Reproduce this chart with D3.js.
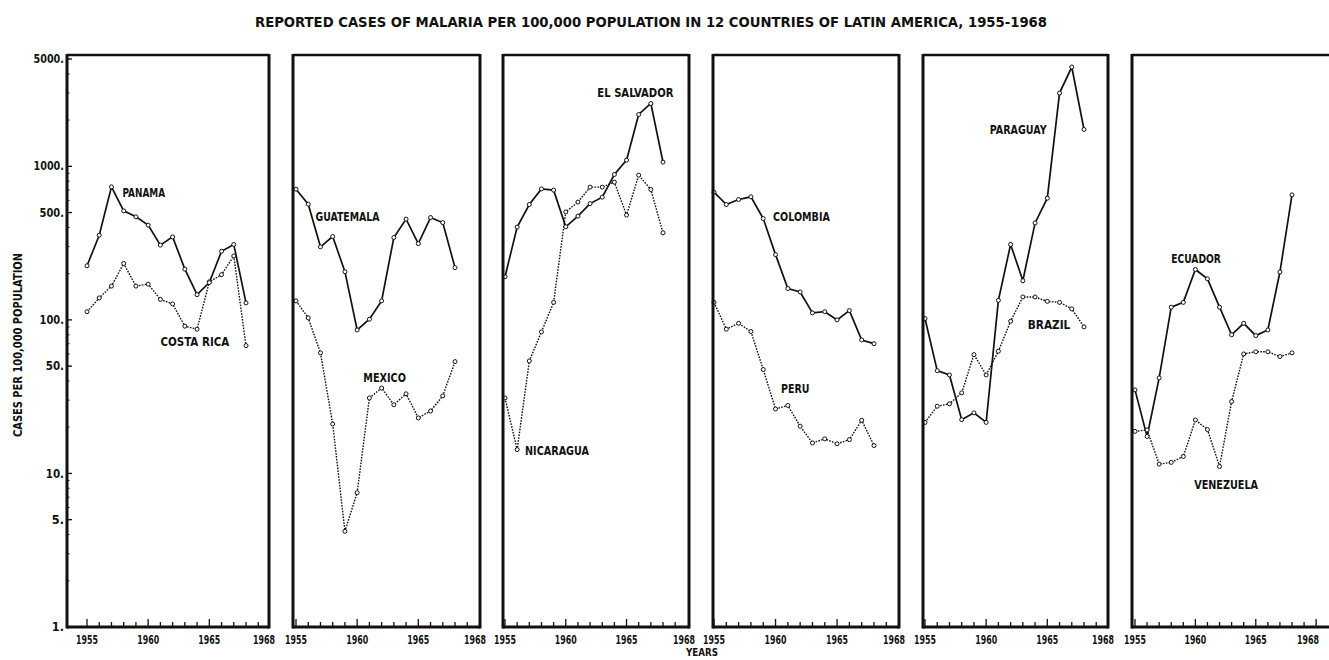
<!DOCTYPE html>
<html>
<head>
<meta charset="utf-8">
<script src="https://cdn.jsdelivr.net/npm/d3@7/dist/d3.min.js"></script>
<style>
  body { margin: 0; background: #fff; }
  svg text {
    font-family: "Liberation Sans Narrow", "DejaVu Sans Condensed", "Roboto", sans-serif;
    font-weight: bold;
    fill: #111;
  }
</style>
</head>
<body>
<svg id="chart" width="1329" height="660"></svg>
<script>
// ---- data: reported malaria cases per 100,000 population ----
const years = [1955, 1956, 1957, 1958, 1959, 1960, 1961, 1962, 1963, 1964, 1965, 1966, 1967, 1968];

const panama     = [225, 356, 735, 513, 469, 414, 307, 347, 214, 146, 175, 280, 310, 129];
const costaRica  = [113, 139, 166, 233, 166, 171, 136, 127, 91, 87, 177, 197, 261, 68];
const guatemala  = [710, 567, 299, 349, 206, 86, 101, 133, 344, 453, 314, 464, 430, 219];
const mexico     = [133, 103, 61, 21, 4.2, 7.5, 31, 36, 28, 33, 23, 25.5, 32, 53.5];
const elSalvador = [191, 402, 564, 713, 700, 404, 474, 572, 630, 885, 1097, 2176, 2566, 1065];
const nicaragua  = [31, 14.3, 54, 83.5, 130, 505, 585, 732, 732, 789, 481, 876, 706, 369];
const colombia   = [679, 564, 608, 633, 457, 266, 160, 152, 111, 113, 100, 115, 74, 70];
const peru       = [130, 87, 95, 84, 47.5, 26.3, 27.7, 20.3, 15.8, 16.8, 15.6, 16.6, 22.2, 15.2];
const paraguay   = [102, 46.7, 43.8, 22.4, 24.8, 21.5, 134, 310, 180, 428, 620, 3000, 4430, 1738];
const brazil     = [21.5, 27.4, 28.4, 33.5, 59.4, 43.8, 62.5, 98, 141, 141, 132, 130, 118, 90];
const ecuador    = [35, 17.4, 41.9, 121, 130, 213, 185, 121, 80, 95, 79, 86, 205, 652];
const venezuela  = [18.8, 19.2, 11.5, 11.8, 12.9, 22.3, 19.3, 11.1, 29.4, 60, 62, 62, 57.7, 61];

const yTickValues = [1, 5, 10, 50, 100, 500, 1000, 5000];
const yTickLabels = ["1.", "5.", "10.", "50.", "100.", "500.", "1000.", "5000."];
const xTickLabels = ["1955", "1960", "1965", "1968"];

const titleText = "REPORTED CASES OF MALARIA PER 100,000 POPULATION IN 12 COUNTRIES OF LATIN AMERICA, 1955-1968";
const yTitle = "CASES PER 100,000 POPULATION";
const xTitle = "YEARS";

// each panel pairs a solid series with a dotted one; name labels sit at (year, value)
const panels = [
  { solid: { name: "PANAMA", values: panama, at: [1957.9, 680] },
    dotted: { name: "COSTA RICA", values: costaRica, at: [1961.0, 72] } },
  { solid: { name: "GUATEMALA", values: guatemala, at: [1956.6, 476] },
    dotted: { name: "MEXICO", values: mexico, at: [1960.5, 42] } },
  { solid: { name: "EL SALVADOR", values: elSalvador, at: [1962.6, 3050] },
    dotted: { name: "NICARAGUA", values: nicaragua, at: [1956.65, 14.2] } },
  { solid: { name: "COLOMBIA", values: colombia, at: [1959.8, 476] },
    dotted: { name: "PERU", values: peru, at: [1960.45, 36] } },
  { solid: { name: "PARAGUAY", values: paraguay, at: [1960.3, 1730] },
    dotted: { name: "BRAZIL", values: brazil, at: [1963.4, 94] } },
  { solid: { name: "ECUADOR", values: ecuador, at: [1958.0, 253] },
    dotted: { name: "VENEZUELA", values: venezuela, at: [1959.9, 8.5] } }
];

// ---- layout ----
const W = 1329;
const svg = d3.select("#chart");
const frameTop = 55, frameBottom = 627;
const y = d3.scaleLog().domain([1, 5000]).range([frameBottom, 59]);

// panel frames: left/right border and the pixel span of 1955..1968
const frames = [
  { left: 67,   right: 269,  x0: 87,   x1: 246 },
  { left: 293,  right: 480,  x0: 296,  x1: 455 },
  { left: 503,  right: 689,  x0: 505,  x1: 663 },
  { left: 713,  right: 899,  x0: 714,  x1: 874 },
  { left: 923,  right: 1108, x0: 925,  x1: 1084 },
  { left: 1132, right: 1336, x0: 1135, x1: 1292 }
];

// title
svg.append("text")
  .attr("x", 651).attr("y", 27)
  .attr("text-anchor", "middle")
  .attr("font-size", 13.5)
  .attr("textLength", 792).attr("lengthAdjust", "spacingAndGlyphs")
  .text(titleText);

// y-axis title
svg.append("text")
  .attr("transform", "translate(22,345) rotate(-90)")
  .attr("text-anchor", "middle")
  .attr("font-size", 12)
  .attr("textLength", 184).attr("lengthAdjust", "spacingAndGlyphs")
  .text(yTitle);

// x-axis title along the bottom edge
svg.append("text")
  .attr("x", 702).attr("y", 656)
  .attr("text-anchor", "middle")
  .attr("font-size", 10.5)
  .attr("textLength", 32).attr("lengthAdjust", "spacingAndGlyphs")
  .text(xTitle);

const lineGen = (x) => d3.line().x((d, i) => x(years[i])).y(d => y(d));

panels.forEach((p, pi) => {
  const f = frames[pi];
  const x = d3.scaleLinear().domain([years[0], years[years.length - 1]]).range([f.x0, f.x1]);
  const g = svg.append("g");

  // yearly ticks along the bottom, pointing up into the panel
  const lastYear = Math.floor(x.invert(Math.min(f.right, W) - 4));
  const tickYears = d3.range(years[0], lastYear + 1);
  g.selectAll("line.xt").data(tickYears).join("line")
    .attr("x1", d => x(d)).attr("x2", d => x(d))
    .attr("y1", frameBottom).attr("y2", d => frameBottom - (d % 5 === 0 ? 8 : 5))
    .attr("stroke", "#111").attr("stroke-width", 1.3);

  // year labels; the last one sits at the panel's right edge
  const labelW = 22;
  xTickLabels.forEach(lbl => {
    const yr = +lbl;
    let px = yr === 1968 ? f.right - 5 : x(yr);
    px = Math.min(px, W - 10 - labelW / 2);
    g.append("text")
      .attr("x", px).attr("y", 644)
      .attr("text-anchor", "middle")
      .attr("font-size", 12.5)
      .attr("textLength", labelW).attr("lengthAdjust", "spacingAndGlyphs")
      .text(lbl);
  });

  // dotted series
  g.append("path")
    .attr("d", lineGen(x)(p.dotted.values))
    .attr("fill", "none").attr("stroke", "#111")
    .attr("stroke-width", 1.4).attr("stroke-dasharray", "1.6,1.3");
  // solid series
  g.append("path")
    .attr("d", lineGen(x)(p.solid.values))
    .attr("fill", "none").attr("stroke", "#111")
    .attr("stroke-width", 1.7);

  // point markers
  [p.dotted, p.solid].forEach(s => {
    g.selectAll(null).data(s.values).join("circle")
      .attr("cx", (d, i) => x(years[i])).attr("cy", d => y(d))
      .attr("r", 2).attr("fill", "#fff")
      .attr("stroke", "#111").attr("stroke-width", 1);
  });

  // country names
  [p.solid, p.dotted].forEach(s => {
    g.append("text")
      .attr("x", x(s.at[0])).attr("y", y(s.at[1]))
      .attr("dy", "0.36em")
      .attr("font-size", 13)
      .attr("textLength", s.name.length * 7.1 - (s.name.includes(" ") ? 2 : 0))
      .attr("lengthAdjust", "spacingAndGlyphs")
      .text(s.name);
  });

  // frame
  g.append("line").attr("x1", f.left).attr("x2", f.right).attr("y1", frameTop).attr("y2", frameTop)
    .attr("stroke", "#111").attr("stroke-width", 2.5);
  g.append("line").attr("x1", f.left).attr("x2", f.right).attr("y1", frameBottom).attr("y2", frameBottom)
    .attr("stroke", "#111").attr("stroke-width", 3);
  g.append("line").attr("x1", f.left).attr("x2", f.left).attr("y1", frameTop - 1).attr("y2", frameBottom + 1.5)
    .attr("stroke", "#111").attr("stroke-width", 3);
  g.append("line").attr("x1", f.right).attr("x2", f.right).attr("y1", frameTop - 1).attr("y2", frameBottom + 1.5)
    .attr("stroke", "#111").attr("stroke-width", 3);

  // log axis on the first panel
  if (pi === 0) {
    const minor = [];
    for (let e = 0; e < 4; e++) for (let m = 2; m <= 9; m++) {
      const v = m * Math.pow(10, e);
      if (v <= 5000) minor.push(v);
    }
    g.selectAll("line.ym").data(minor).join("line")
      .attr("x1", f.left).attr("x2", f.left + 2.5)
      .attr("y1", d => y(d)).attr("y2", d => y(d))
      .attr("stroke", "#111").attr("stroke-width", 1);
    g.selectAll("line.yt").data(yTickValues).join("line")
      .attr("x1", f.left).attr("x2", f.left + 5)
      .attr("y1", d => y(d)).attr("y2", d => y(d))
      .attr("stroke", "#111").attr("stroke-width", 1.3);
    g.selectAll("text.yl").data(yTickValues).join("text")
      .attr("x", f.left - 3).attr("y", d => y(d))
      .attr("dy", "0.36em")
      .attr("text-anchor", "end")
      .attr("font-size", 11.5)
      .attr("textLength", (d, i) => yTickLabels[i].length * 6.1)
      .attr("lengthAdjust", "spacingAndGlyphs")
      .text((d, i) => yTickLabels[i]);
  }
});
</script>
</body>
</html>
